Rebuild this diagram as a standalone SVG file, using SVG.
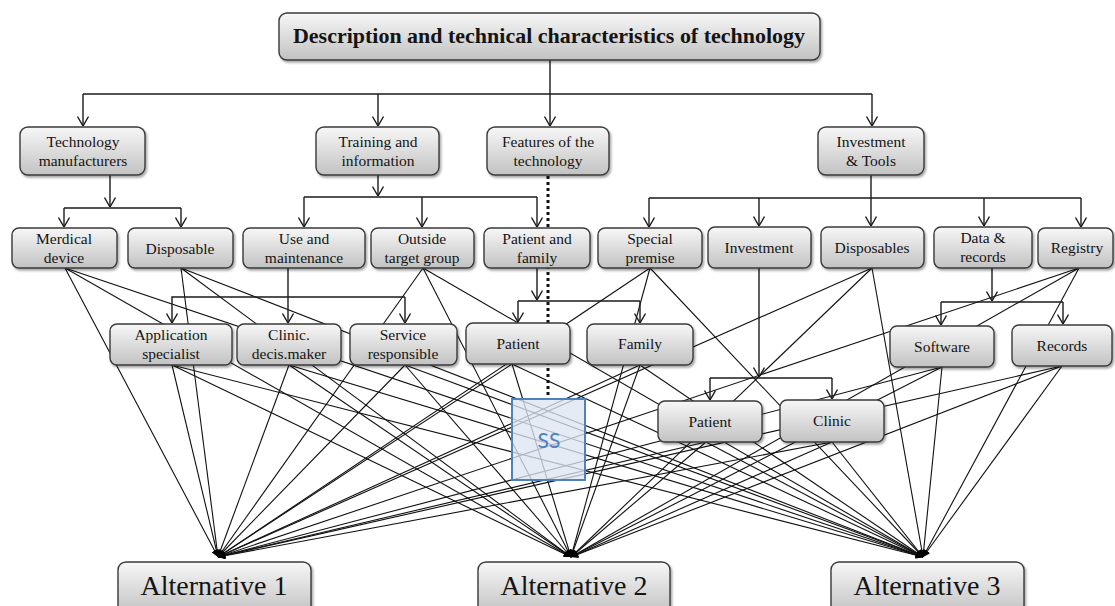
<svg xmlns="http://www.w3.org/2000/svg" width="1115" height="606" viewBox="0 0 1115 606">
  <style>
    .box { fill: url(#boxFill); stroke: #3a3a3a; stroke-width: 1.4; filter: url(#shadow); }
    .lbl { font-family: "Liberation Serif", "Times New Roman", serif; font-size: 15.5px; fill: #141414; text-anchor: middle; }
    .ttl { font-family: "Liberation Serif", "Times New Roman", serif; font-size: 21px; font-weight: bold; fill: #141414; text-anchor: middle; }
    .alt { font-family: "Liberation Serif", "Times New Roman", serif; font-size: 28px; fill: #141414; text-anchor: middle; }
    .tree { fill: none; stroke: #1a1a1a; stroke-width: 1.4; }
    .tree-arrow { fill: none; stroke: #1a1a1a; stroke-width: 1.4; marker-end: url(#open); }
    .fan line { stroke: #111; stroke-width: 1.1; marker-end: url(#solid); }
    .dots { fill: none; stroke: #111; stroke-width: 3; stroke-dasharray: 3 3; }
  </style>
  <defs>
    <linearGradient id="boxFill" x1="0" y1="0" x2="0" y2="1">
      <stop offset="0" stop-color="#f7f7f7"/>
      <stop offset="1" stop-color="#c2c2c2"/>
    </linearGradient>
    <filter id="shadow" x="-10%" y="-15%" width="130%" height="150%">
      <feDropShadow dx="1.5" dy="2" stdDeviation="1.2" flood-color="#000" flood-opacity="0.35"/>
    </filter>
    <marker id="open" viewBox="0 0 10 12" refX="10" refY="6" markerUnits="userSpaceOnUse" markerWidth="10" markerHeight="12" orient="auto">
      <path d="M0.5,0.5 L10,6 L0.5,11.5" fill="none" stroke="#1a1a1a" stroke-width="1.4"/>
    </marker>
    <marker id="solid" viewBox="0 0 10 10" refX="10" refY="5" markerUnits="userSpaceOnUse" markerWidth="9" markerHeight="7" orient="auto">
      <path d="M0,0 L10,5 L0,10 z" fill="#000"/>
    </marker>
  </defs>

  <rect width="1115" height="606" fill="#ffffff"/>

  <!-- connectors -->
  <g id="connectors">
    <!-- fan of lines from every leaf into the three alternatives -->
    <g class="fan">
      <!-- Merdical device -->
      <line x1="65" y1="268" x2="218" y2="557"/>
      <line x1="65" y1="268" x2="571" y2="557"/>
      <line x1="65" y1="268" x2="923" y2="557"/>
      <!-- Disposable -->
      <line x1="181" y1="268" x2="218" y2="557"/>
      <line x1="181" y1="268" x2="571" y2="557"/>
      <line x1="181" y1="268" x2="923" y2="557"/>
      <!-- Outside target group -->
      <line x1="423" y1="268" x2="218" y2="557"/>
      <line x1="423" y1="268" x2="571" y2="557"/>
      <line x1="423" y1="268" x2="923" y2="557"/>
      <!-- Special premise -->
      <line x1="650" y1="268" x2="218" y2="557"/>
      <line x1="650" y1="268" x2="571" y2="557"/>
      <line x1="650" y1="268" x2="923" y2="557"/>
      <!-- Disposables -->
      <line x1="872" y1="268" x2="218" y2="557"/>
      <line x1="872" y1="268" x2="571" y2="557"/>
      <line x1="872" y1="268" x2="923" y2="557"/>
      <!-- Registry -->
      <line x1="1079" y1="268" x2="218" y2="557"/>
      <line x1="1079" y1="268" x2="571" y2="557"/>
      <line x1="1079" y1="268" x2="923" y2="557"/>
      <!-- Application specialist -->
      <line x1="172" y1="365" x2="218" y2="557"/>
      <line x1="172" y1="365" x2="571" y2="557"/>
      <line x1="172" y1="365" x2="923" y2="557"/>
      <!-- Clinic. decis.maker -->
      <line x1="289" y1="365" x2="218" y2="557"/>
      <line x1="289" y1="365" x2="571" y2="557"/>
      <line x1="289" y1="365" x2="923" y2="557"/>
      <!-- Service responsible -->
      <line x1="405" y1="365" x2="218" y2="557"/>
      <line x1="405" y1="365" x2="571" y2="557"/>
      <line x1="405" y1="365" x2="923" y2="557"/>
      <!-- Patient (row 4) -->
      <line x1="512" y1="364" x2="218" y2="557"/>
      <line x1="512" y1="364" x2="571" y2="557"/>
      <line x1="512" y1="364" x2="923" y2="557"/>
      <!-- Family -->
      <line x1="640" y1="365" x2="218" y2="557"/>
      <line x1="640" y1="365" x2="571" y2="557"/>
      <line x1="640" y1="365" x2="923" y2="557"/>
      <!-- Software -->
      <line x1="942" y1="367" x2="218" y2="557"/>
      <line x1="942" y1="367" x2="571" y2="557"/>
      <line x1="942" y1="367" x2="923" y2="557"/>
      <!-- Records -->
      <line x1="1062" y1="366" x2="218" y2="557"/>
      <line x1="1062" y1="366" x2="571" y2="557"/>
      <line x1="1062" y1="366" x2="923" y2="557"/>
      <!-- Patient (row 5) -->
      <line x1="706" y1="442" x2="218" y2="557"/>
      <line x1="706" y1="442" x2="571" y2="557"/>
      <line x1="706" y1="442" x2="923" y2="557"/>
      <!-- Clinic (row 5) -->
      <line x1="832" y1="442" x2="218" y2="557"/>
      <line x1="832" y1="442" x2="571" y2="557"/>
      <line x1="832" y1="442" x2="923" y2="557"/>
    </g>

    <!-- title to first level -->
    <path class="tree" d="M83,94 H872"/>
    <path class="tree-arrow" d="M550,60 V126"/>
    <path class="tree-arrow" d="M83,94 V126"/>
    <path class="tree-arrow" d="M378,94 V126"/>
    <path class="tree-arrow" d="M872,94 V126"/>

    <!-- Technology manufacturers -->
    <path class="tree-arrow" d="M110,175 V207"/>
    <path class="tree" d="M64,208 H181"/>
    <path class="tree-arrow" d="M64,208 V227"/>
    <path class="tree-arrow" d="M181,208 V227"/>

    <!-- Training and information -->
    <path class="tree-arrow" d="M378,175 V196"/>
    <path class="tree" d="M304,197 H537"/>
    <path class="tree-arrow" d="M304,197 V227"/>
    <path class="tree-arrow" d="M422,197 V227"/>
    <path class="tree-arrow" d="M537,197 V227"/>

    <!-- Investment & Tools -->
    <path class="tree" d="M649,198 H1081"/>
    <path class="tree-arrow" d="M871,175 V226"/>
    <path class="tree-arrow" d="M649,198 V227"/>
    <path class="tree-arrow" d="M759,198 V226"/>
    <path class="tree-arrow" d="M984,198 V226"/>
    <path class="tree-arrow" d="M1081,198 V227"/>

    <!-- Use and maintenance -->
    <path class="tree-arrow" d="M288,268 V323"/>

    <!-- Outside target group bracket -->
    <path class="tree-arrow" d="M405,297 H172 V323"/>
    <path class="tree-arrow" d="M405,297 V323"/>

    <!-- Patient and family -->
    <path class="tree-arrow" d="M537,268 V300"/>
    <path class="tree" d="M518,301 H640"/>
    <path class="tree-arrow" d="M518,301 V322"/>
    <path class="tree-arrow" d="M640,301 V323"/>

    <!-- Investment -->
    <path class="tree-arrow" d="M759,268 V377"/>
    <path class="tree" d="M710,378 H832"/>
    <path class="tree-arrow" d="M710,378 V400"/>
    <path class="tree-arrow" d="M832,378 V399"/>

    <!-- Data & records -->
    <path class="tree-arrow" d="M992,268 V301"/>
    <path class="tree" d="M941,302 H1063"/>
    <path class="tree-arrow" d="M941,302 V325"/>
    <path class="tree-arrow" d="M1063,302 V324"/>

    <!-- Features of the technology, dotted link -->
    <path class="dots" d="M548,176 V399"/>
  </g>

  <!-- nodes -->
  <g id="n-title">
    <rect class="box" x="279" y="13" width="541" height="47" rx="8"/>
    <text class="ttl" x="549" y="43" textLength="512" lengthAdjust="spacingAndGlyphs">Description and technical characteristics of technology</text>
  </g>

  <g id="n-tech-manufacturers">
    <rect class="box" x="20" y="127" width="125" height="48" rx="8"/>
    <text class="lbl" x="83" y="147">Technology</text>
    <text class="lbl" x="83" y="166">manufacturers</text>
  </g>
  <g id="n-training">
    <rect class="box" x="316" y="127" width="123" height="48" rx="8"/>
    <text class="lbl" x="378" y="147">Training and</text>
    <text class="lbl" x="378" y="166">information</text>
  </g>
  <g id="n-features">
    <rect class="box" x="487" y="127" width="122" height="48" rx="8"/>
    <text class="lbl" x="548" y="147">Features of the</text>
    <text class="lbl" x="548" y="166">technology</text>
  </g>
  <g id="n-investment-tools">
    <rect class="box" x="818" y="127" width="106" height="48" rx="8"/>
    <text class="lbl" x="871" y="147">Investment</text>
    <text class="lbl" x="871" y="166">&amp; Tools</text>
  </g>

  <g id="n-medical-device">
    <rect class="box" x="12" y="228" width="105" height="40" rx="7"/>
    <text class="lbl" x="64" y="244">Merdical</text>
    <text class="lbl" x="64" y="263">device</text>
  </g>
  <g id="n-disposable">
    <rect class="box" x="128" y="228" width="105" height="40" rx="7"/>
    <text class="lbl" x="180" y="254">Disposable</text>
  </g>
  <g id="n-use-maintenance">
    <rect class="box" x="243" y="228" width="122" height="40" rx="7"/>
    <text class="lbl" x="304" y="244">Use and</text>
    <text class="lbl" x="304" y="263">maintenance</text>
  </g>
  <g id="n-outside-target">
    <rect class="box" x="371" y="228" width="103" height="40" rx="7"/>
    <text class="lbl" x="422" y="244">Outside</text>
    <text class="lbl" x="422" y="263">target group</text>
  </g>
  <g id="n-patient-family">
    <rect class="box" x="484" y="228" width="106" height="40" rx="7"/>
    <text class="lbl" x="537" y="244">Patient and</text>
    <text class="lbl" x="537" y="263">family</text>
  </g>
  <g id="n-special-premise">
    <rect class="box" x="598" y="228" width="104" height="40" rx="7"/>
    <text class="lbl" x="650" y="244">Special</text>
    <text class="lbl" x="650" y="263">premise</text>
  </g>
  <g id="n-investment">
    <rect class="box" x="708" y="227" width="103" height="41" rx="7"/>
    <text class="lbl" x="759" y="253">Investment</text>
  </g>
  <g id="n-disposables">
    <rect class="box" x="821" y="227" width="103" height="41" rx="7"/>
    <text class="lbl" x="872" y="253">Disposables</text>
  </g>
  <g id="n-data-records">
    <rect class="box" x="934" y="227" width="98" height="41" rx="7"/>
    <text class="lbl" x="983" y="243">Data &amp;</text>
    <text class="lbl" x="983" y="262">records</text>
  </g>
  <g id="n-registry">
    <rect class="box" x="1038" y="228" width="75" height="40" rx="7"/>
    <text class="lbl" x="1077" y="253">Registry</text>
  </g>

  <g id="n-application-specialist">
    <rect class="box" x="110" y="324" width="122" height="41" rx="7"/>
    <text class="lbl" x="171" y="340">Application</text>
    <text class="lbl" x="171" y="359">specialist</text>
  </g>
  <g id="n-clinic-decision-maker">
    <rect class="box" x="237" y="324" width="104" height="41" rx="7"/>
    <text class="lbl" x="289" y="340">Clinic.</text>
    <text class="lbl" x="289" y="359">decis.maker</text>
  </g>
  <g id="n-service-responsible">
    <rect class="box" x="350" y="324" width="107" height="41" rx="7"/>
    <text class="lbl" x="403" y="340">Service</text>
    <text class="lbl" x="403" y="359">responsible</text>
  </g>
  <g id="n-patient-a">
    <rect class="box" x="466" y="323" width="104" height="41" rx="7"/>
    <text class="lbl" x="518" y="349">Patient</text>
  </g>
  <g id="n-family">
    <rect class="box" x="587" y="324" width="106" height="41" rx="7"/>
    <text class="lbl" x="640" y="349">Family</text>
  </g>
  <g id="n-software">
    <rect class="box" x="890" y="326" width="104" height="41" rx="7"/>
    <text class="lbl" x="942" y="352">Software</text>
  </g>
  <g id="n-records">
    <rect class="box" x="1012" y="325" width="100" height="41" rx="7"/>
    <text class="lbl" x="1062" y="351">Records</text>
  </g>

  <g id="n-patient-b">
    <rect class="box" x="658" y="401" width="104" height="41" rx="7"/>
    <text class="lbl" x="710" y="427">Patient</text>
  </g>
  <g id="n-clinic">
    <rect class="box" x="780" y="400" width="104" height="42" rx="7"/>
    <text class="lbl" x="832" y="426">Clinic</text>
  </g>

  <g id="n-ss">
    <rect x="512" y="399" width="73" height="81" fill="#dce6f2" fill-opacity="0.78" stroke="#4f81bd" stroke-width="2"/>
    <text x="549" y="448" font-family="Lato, 'Open Sans', sans-serif" font-size="21" fill="#4f81bd" text-anchor="middle">SS</text>
  </g>

  <g id="n-alternative-1">
    <rect class="box" x="118" y="562" width="193" height="52" rx="8"/>
    <text class="alt" x="214" y="595">Alternative 1</text>
  </g>
  <g id="n-alternative-2">
    <rect class="box" x="478" y="562" width="192" height="52" rx="8"/>
    <text class="alt" x="574" y="595">Alternative 2</text>
  </g>
  <g id="n-alternative-3">
    <rect class="box" x="831" y="562" width="193" height="52" rx="8"/>
    <text class="alt" x="927" y="595">Alternative 3</text>
  </g>
</svg>
